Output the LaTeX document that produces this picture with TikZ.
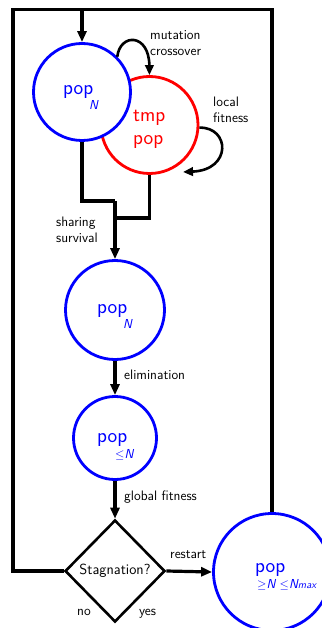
\documentclass[tikz,border=0pt]{standalone}
\usetikzlibrary{arrows.meta,shapes.geometric,calc}
\begin{document}
\begin{tikzpicture}[x=1pt,y=-1pt,
  every node/.style={font=\sffamily},
  frame/.style={line width=3.2pt},
  arr/.style={line width=3.2pt,-{Triangle[length=11pt,width=9pt]}},
  loop/.style={line width=2.6pt,-{Triangle[length=10pt,width=8.5pt]}},
  bcirc/.style={circle,draw=blue,fill=white,line width=2.8pt,inner sep=0pt},
  rcirc/.style={circle,draw=red,line width=2.8pt,inner sep=0pt},
  big/.style={font=\sffamily\fontsize{20.5}{24}\selectfont,inner sep=0pt,anchor=base west},
  sub/.style={font=\sffamily\itshape\fontsize{13}{15}\selectfont,inner sep=0pt,anchor=base west,text=blue},
  lab/.style={font=\sffamily\fontsize{13.7}{16}\selectfont,inner sep=0pt,anchor=base west,align=left},
]
\useasboundingbox (0,0) rectangle (321,628);

% nodes
\node[rcirc,minimum size=97pt] (tmp) at (149.5,125) {};
\node[bcirc,minimum size=97pt] (c1) at (82,92) {};
\node[bcirc,minimum size=99pt] (c2) at (115,310) {};
\node[bcirc,minimum size=83pt] (c3) at (115,438) {};
\node[draw,diamond,line width=2.6pt,minimum width=100pt,minimum height=102pt,inner sep=0pt] (d) at (115,571) {};
\node[bcirc,minimum size=117pt] (c4) at (272,572) {};

% texts in circles
\node[big,text=blue] (t1) at (63,95) {pop};
\node[sub] (t1s) at (89,110) {N};
\node[big,text=red] (t2) at (133,122) {tmp};
\node[big,text=red] (t2b) at (133,145) {pop};
\node[big,text=blue] (t3) at (97,313) {pop};
\node[sub] (t3s) at (123,328) {N};
\node[big,text=blue] (t4) at (97,442) {pop};
\node[sub] (t4s) at (115,458) {$\le$N};
\node[big,text=blue] (t5) at (255,572) {pop};
\node[sub] (t5s) at (257,588) {$\ge$N $\le$N{\fontsize{10.5}{12}\selectfont max}};
\node[font=\sffamily\fontsize{14.6}{17}\selectfont,inner sep=0pt] (ts) at (115,571) {Stagnation?};

% labels (two-line labels anchored at the baseline of their last line)
\node[lab] (lmc) at (150,56) {mutation\\crossover};
\node[lab] (llf) at (213,123) {local\\fitness};
\node[lab] (lss) at (56,242) {sharing\\survival};
\node[lab] (lel) at (124,379) {elimination};
\node[lab] (lgf) at (124,500) {global fitness};
\node[lab] (lre) at (170,558) {restart};
\node[lab] (lno) at (77,615) {no};
\node[lab] (lye) at (139,615) {yes};

% frame
\coordinate (bl) at (13,571);
\coordinate (tl) at (13,9.5);
\coordinate (tr) at (272,9.5);
\coordinate (tin) at (82,9.5);
\draw[frame,line join=miter] (d.west) -- (bl) -- (tl) -- (tr) -- (c4.north);
\draw[arr] (tin) -- (c1.north);

% loops
\coordinate (lfend) at (183,172);
\draw[loop] (c1.45) .. controls (120,33) and (149,33) .. (tmp.north);
\draw[loop] (tmp.-3) .. controls (230,127) and (232,170) .. (lfend);

% merge
\coordinate (j1) at (115,201);
\coordinate (j2) at (115,218);
\draw[frame,line join=miter] (c1.south) |- (j1);
\draw[frame,line join=miter] (tmp.south) |- (j2);
\draw[arr] (j1) -- (c2.north);
\draw[arr] (c2.south) -- (c3.north);
\draw[arr] (c3.south) -- (d.north);
\draw[arr] (d.east) -- (c4.west);
\end{tikzpicture}
\end{document}
